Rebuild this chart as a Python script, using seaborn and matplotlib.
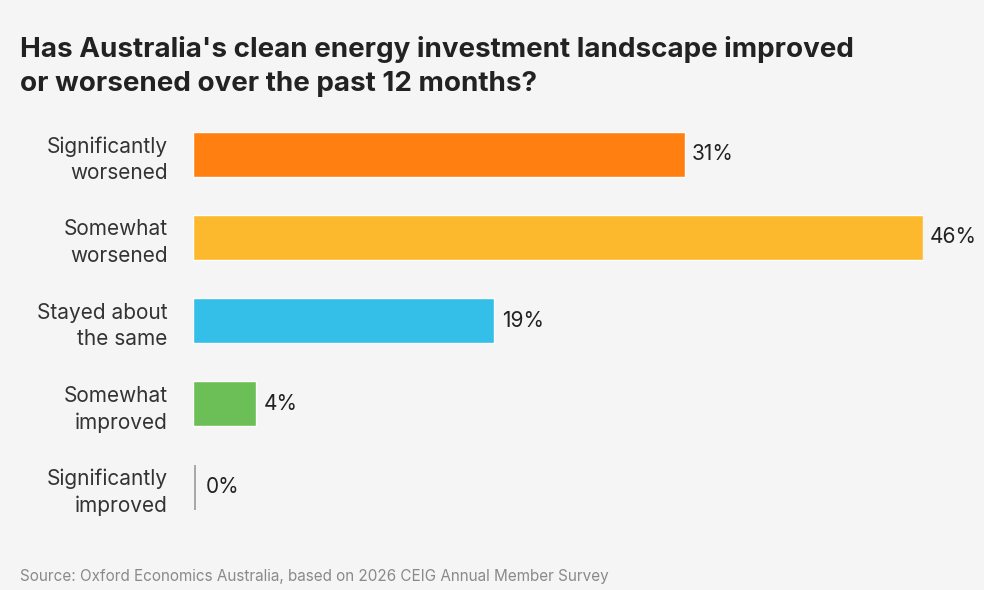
import matplotlib
matplotlib.use("Agg")
import matplotlib.pyplot as plt
import seaborn as sns
import pandas as pd

categories = ["Significantly\nworsened", "Somewhat\nworsened", "Stayed about\nthe same",
              "Somewhat\nimproved", "Significantly\nimproved"]
values = [31, 46, 19, 4, 0]
colors = ["#FF7F11", "#FDB92D", "#33BFE8", "#6CBF56", "#9A9A9A"]

sns.set_style("white")
plt.rcParams["font.family"] = ["Inter", "DejaVu Sans"]
bg = "#F5F5F5"

df = pd.DataFrame({"cat": categories, "val": values})
fig = plt.figure(figsize=(9.84, 5.9), dpi=100, facecolor=bg)
ax = fig.add_axes([0.196, 0.104, 0.742, 0.705], facecolor=bg)
sns.barplot(data=df, y="cat", x="val", hue="cat", palette=colors, legend=False,
            width=0.54, ax=ax, saturation=1)
for p, c, v in zip(ax.patches, colors, values):
    if v == 0:
        p.set_edgecolor(c)
        p.set_linewidth(1.2)
        p.set_x(0.15)
for i, v in enumerate(values):
    ax.text(v + 0.45 if v else 0.8, i, f"{v}%", va="center", ha="left", fontsize=15, color="#222")

ax.set_xlim(0, 46)
ax.set_xticks([])
ax.set_xlabel("")
ax.set_ylabel("")
ax.tick_params(axis="y", length=0, pad=18, labelsize=15, labelcolor="#333")
for lbl in ax.get_yticklabels():
    lbl.set_horizontalalignment("right")
    lbl.set_multialignment("right")
    lbl.set_linespacing(1.4)
sns.despine(ax=ax, left=True, bottom=True)

fig.text(0.02, 0.835, "Has Australia's clean energy investment landscape improved\nor worsened over the past 12 months?",
         fontsize=20, fontweight="bold", color="#222", linespacing=1.42, va="bottom")
fig.text(0.02, 0.015, "Source: Oxford Economics Australia, based on 2026 CEIG Annual Member Survey",
         fontsize=11, color="#8a8a8a")
fig.savefig("out.png", dpi=100, facecolor=bg)
